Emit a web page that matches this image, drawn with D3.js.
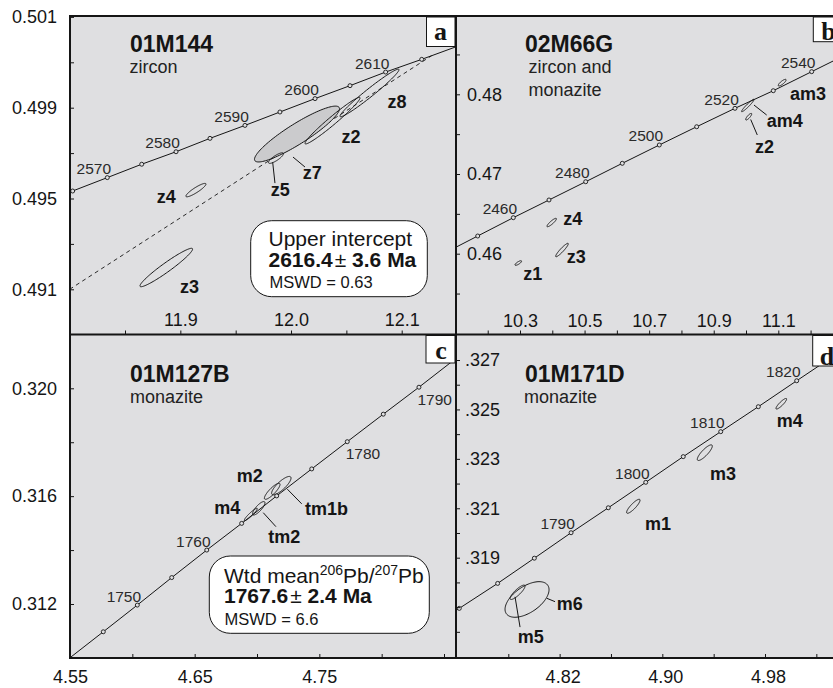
<!DOCTYPE html>
<html>
<head>
<meta charset="utf-8">
<script src="https://cdn.jsdelivr.net/npm/d3@7"></script>
<style>
  html, body { margin: 0; padding: 0; background: #ffffff; }
  svg { display: block; }
</style>
</head>
<body>
<svg id="chart" width="833" height="688"></svg>
<script>
// ---------------------------------------------------------------
// Concordia diagrams (206Pb/238U vs 207Pb/235U), four samples
// ---------------------------------------------------------------

// ---- Panel a: 01M144, zircon ----
const aAges   = [2560, 2565, 2570, 2575, 2580, 2585, 2590, 2595, 2600, 2605, 2610, 2615, 2620];
const aConcX  = [11.771, 11.8027, 11.834, 11.8651, 11.8961, 11.9268, 11.9584, 11.99, 12.0217, 12.0533, 12.0855, 12.1181, 12.150];
const aConcY  = [0.49475, 0.49533, 0.49592, 0.49651, 0.49706, 0.49765, 0.49822, 0.49881, 0.49940, 0.49997, 0.50057, 0.50113, 0.50170];
const aAgeLabels = [2570, 2580, 2590, 2600, 2610];
const aDiscordia = [[11.80, 0.4910], [12.127, 0.50129]];
const aSpots = [
  { name: "z7", x: 12.0054, y: 0.49784, sx: 0.0384,  sy: 0.00123,  rho: 0.905 },
  { name: "z2", x: 12.0375, y: 0.49843, sx: 0.02485, sy: 0.001026, rho: 0.975 },
  { name: "z8", x: 12.0709, y: 0.49965, sx: 0.02665, sy: 0.001048, rho: 0.9767 },
  { name: "z5", x: 11.9864, y: 0.49678, sx: 0.00678, sy: 0.000233, rho: 0.833 },
  { name: "z4", x: 11.9141, y: 0.49537, sx: 0.00904, sy: 0.000295, rho: 0.898 },
  { name: "z3", x: 11.8873, y: 0.49196, sx: 0.02376, sy: 0.000846, rho: 0.958 }
];
const aXTicks = [11.85, 11.9, 11.95, 12.0, 12.05, 12.1];
const aXLabelValues = [11.9, 12.0, 12.1];
const aXLabels = ["11.9", "12.0", "12.1"];
const aYTicks = [0.491, 0.493, 0.495, 0.497, 0.499, 0.501, 0.503];
const aYLabelValues = [0.491, 0.495, 0.499, 0.503];
const aYLabels = ["0.491", "0.495", "0.499", "0.501"];

// ---- Panel b: 02M66G, zircon and monazite ----
const bAges  = [2440, 2450, 2460, 2470, 2480, 2490, 2500, 2510, 2520, 2530, 2540, 2550];
const bConcX = [10.0587, 10.169, 10.2793, 10.3898, 10.5035, 10.6168, 10.7314, 10.8472, 10.9658, 11.0845, 11.2034, 11.3223];
const bConcY = [0.45992, 0.46222, 0.46452, 0.46674, 0.46903, 0.47134, 0.47364, 0.47593, 0.47824, 0.48045, 0.48284, 0.48523];
const bAgeLabels = [2460, 2480, 2500, 2520, 2540];
const bSpots = [
  { name: "am3", x: 11.112,  y: 0.48146, sx: 0.0121,  sy: 0.000414, rho: 0.82 },
  { name: "am4", x: 11.0055, y: 0.47859, sx: 0.0192,  sy: 0.000778, rho: 0.956 },
  { name: "z2",  x: 11.0083, y: 0.47719, sx: 0.0093,  sy: 0.000414, rho: 0.83 },
  { name: "z4",  x: 10.3982, y: 0.46391, sx: 0.01455, sy: 0.000527, rho: 0.886 },
  { name: "z3",  x: 10.430,  y: 0.46046, sx: 0.0195,  sy: 0.00084,  rho: 0.931 },
  { name: "z1",  x: 10.2947, y: 0.45883, sx: 0.0102,  sy: 0.000289, rho: 0.795 }
];
const bXTicks = [10.2, 10.3, 10.4, 10.5, 10.6, 10.7, 10.8, 10.9, 11.0, 11.1, 11.2];
const bXLabelValues = [10.3, 10.5, 10.7, 10.9, 11.1];
const bXLabels = ["10.3", "10.5", "10.7", "10.9", "11.1"];
const bYTicks = [0.455, 0.46, 0.465, 0.47, 0.475, 0.48, 0.485];
const bYLabelValues = [0.46, 0.47, 0.48];
const bYLabels = ["0.46", "0.47", "0.48"];

// ---- Panel c: 01M127B, monazite ----
const cAges  = [1740, 1745, 1750, 1755, 1760, 1765, 1770, 1775, 1780, 1785, 1790, 1795];
const cConcX = [4.5487, 4.5767, 4.604, 4.6316, 4.6597, 4.6877, 4.7158, 4.7439, 4.7724, 4.8013, 4.8299, 4.858];
const cConcY = [0.30996, 0.31097, 0.31196, 0.31298, 0.31400, 0.31499, 0.31601, 0.31701, 0.31802, 0.31904, 0.32004, 0.32105];
const cAgeLabels = [1750, 1760, 1780, 1790];
const cSpots = [
  { name: "tm1b", x: 4.7195, y: 0.31639, sx: 0.00778, sy: 0.000341, rho: 0.82 },
  { name: "m2",   x: 4.7122, y: 0.31618, sx: 0.00626, sy: 0.000297, rho: 0.856 },
  { name: "tm2",  x: 4.7014, y: 0.31555, sx: 0.00497, sy: 0.000249, rho: 0.81 },
  { name: "m4",   x: 4.695,  y: 0.31532, sx: 0.00521, sy: 0.00023,  rho: 0.936 }
];
const cXTicks = [4.55, 4.60, 4.65, 4.70, 4.75, 4.80, 4.85];
const cXLabelValues = [4.55, 4.65, 4.75];
const cXLabels = ["4.55", "4.65", "4.75"];
const cYTicks = [0.312, 0.314, 0.316, 0.318, 0.320];
const cYLabelValues = [0.312, 0.316, 0.320];
const cYLabels = ["0.312", "0.316", "0.320"];

// ---- Panel d: 01M171D, monazite ----
const dAges  = [1770, 1775, 1780, 1785, 1790, 1795, 1800, 1805, 1810, 1815, 1820, 1825];
const dConcX = [4.7126, 4.7418, 4.7717, 4.8003, 4.8289, 4.8579, 4.8871, 4.9163, 4.9455, 4.9748, 5.0047, 5.034];
const dConcY = [0.31593, 0.31695, 0.31796, 0.31898, 0.32001, 0.32102, 0.32205, 0.32309, 0.3241, 0.32511, 0.32616, 0.32718];
const dAgeLabels = [1790, 1800, 1810, 1820];
const dSpots = [
  { name: "m4", x: 4.9927, y: 0.32523, sx: 0.00413, sy: 0.000214, rho: 0.885 },
  { name: "m3", x: 4.9331, y: 0.32325, sx: 0.00584, sy: 0.000316, rho: 0.846 },
  { name: "m1", x: 4.8774, y: 0.32108, sx: 0.00522, sy: 0.000283, rho: 0.867 },
  { name: "m6", x: 4.7946, y: 0.31731, sx: 0.01714, sy: 0.00072,  rho: 0.55 },
  { name: "m5", x: 4.7872, y: 0.3176,  sx: 0.00584, sy: 0.000291, rho: 0.855 }
];
const dXTicks = [4.78, 4.82, 4.86, 4.90, 4.94, 4.98, 5.02];
const dXLabelValues = [4.82, 4.90, 4.98];
const dXLabels = ["4.82", "4.90", "4.98"];
const dYTicks = [0.316, 0.317, 0.318, 0.319, 0.320, 0.321, 0.322, 0.323, 0.324, 0.325, 0.326, 0.327];
const dYLabelValues = [0.319, 0.321, 0.323, 0.325, 0.327];
const dYLabels = [".319", ".321", ".323", ".325", ".327"];

// ---------------------------------------------------------------
// Layout and style
// ---------------------------------------------------------------
const L = 70, MX = 456, R = 845, T = 16, MY = 334.5, B = 658;
const PANEL_BG = "#dfdfe1";
const SHADE = "#cbcbcd";
const INK = "#151515";
const FONT = "'Liberation Sans', Arial, Helvetica, sans-serif";
const SERIF = "'Liberation Serif', 'Times New Roman', serif";

// label anchor (px, relative to the ellipse centre) and leader lines
const spotLabelPos = {
  a: { z8: [18, 15.5], z2: [9, 22], z7: [5.7, 45.3], z5: [-5.3, 38], z4: [-39.3, 13.3], z3: [13.7, 25.2] },
  b: { am3: [7.8, 17.3], am4: [19, 21], z2: [6.3, 36], z4: [11.6, 2], z3: [4.7, 13], z1: [5, 17] },
  c: { m2: [-35.5, -9.6], tm1b: [23.7, 29.2], m4: [-36.5, -0.5], tm2: [9.5, 35] },
  d: { m4: [-4.6, 23.6], m3: [5.2, 27.2], m1: [11.7, 23.7], m6: [29.7, 10.5], m5: [0.2, 51.1] }
};
const spotLeaders = {
  a: { z7: [[-4, 23], [8, 33]], z5: [[-3.3, 4], [-1, 25]] },
  b: { am4: [[6.2, -0.5], [18.9, 9.5]], z2: [[2, 2.8], [8.6, 18.3]] },
  c: { tm1b: [[6, 3.5], [20.4, 18.2]], tm2: [[4.5, 4.4], [17.2, 18.4]] },
  d: { m6: [[19.7, -1.2], [28, 2.2]], m5: [[-2.5, 4.5], [2.5, 34.8]] }
};
const shadedSpots = { a: ["z7"] };
const ageLabelsBelow = { c: [1780, 1790] };

const panels = [
  { id: "a", box: [L, T, MX, MY],
    x: d3.scaleLinear().domain([11.85, 12.1]).range([125, 401.7]),
    y: d3.scaleLinear().domain([0.491, 0.499]).range([289.3, 107.7]),
    ages: aAges, cx: aConcX, cy: aConcY, ageLabels: aAgeLabels, spots: aSpots, discordia: aDiscordia,
    title: "01M144", sub: ["zircon"], tx: 130, ty: 51.5, sx: 129.5, sy: [73],
    xt: [aXTicks, aXLabelValues, aXLabels], yt: [aYTicks, aYLabelValues, aYLabels],
    letter: "a", letterBox: [426.5, T, MX, 46.5], letterPos: [440.5, 39.5] },
  { id: "b", box: [MX, T, R, MY],
    x: d3.scaleLinear().domain([10.3, 11.1]).range([520, 778.3]),
    y: d3.scaleLinear().domain([0.46, 0.48]).range([253.7, 94.3]),
    ages: bAges, cx: bConcX, cy: bConcY, ageLabels: bAgeLabels, spots: bSpots,
    title: "02M66G", sub: ["zircon and", "monazite"], tx: 525, ty: 51.5, sx: 528.5, sy: [72.5, 95.5],
    xt: [bXTicks, bXLabelValues, bXLabels], yt: [bYTicks, bYLabelValues, bYLabels],
    letter: "b", letterBox: [813.3, T, R, 41.7], letterPos: [828.5, 39.5] },
  { id: "c", box: [L, MY, MX, B],
    x: d3.scaleLinear().domain([4.55, 4.85]).range([70, 444]),
    y: d3.scaleLinear().domain([0.312, 0.320]).range([604, 388.3]),
    ages: cAges, cx: cConcX, cy: cConcY, ageLabels: cAgeLabels, spots: cSpots,
    title: "01M127B", sub: ["monazite"], tx: 130, ty: 382.3, sx: 130, sy: [403],
    xt: [cXTicks, cXLabelValues, cXLabels], yt: [cYTicks, cYLabelValues, cYLabels],
    letter: "c", letterBox: [426, MY, MX, 363], letterPos: [441, 358.5] },
  { id: "d", box: [MX, MY, R, B],
    x: d3.scaleLinear().domain([4.78, 4.98]).range([508.3, 765]),
    y: d3.scaleLinear().domain([0.319, 0.327]).range([557.7, 360]),
    ages: dAges, cx: dConcX, cy: dConcY, ageLabels: dAgeLabels, spots: dSpots,
    title: "01M171D", sub: ["monazite"], tx: 525, ty: 382.3, sx: 524, sy: [403],
    xt: [dXTicks, dXLabelValues, dXLabels], yt: [dYTicks, dYLabelValues, dYLabels],
    letter: "d", letterBox: [812.7, MY, R, 366], letterPos: [827, 364.5] }
];

const svg = d3.select("#chart");
const defs = svg.append("defs");

// error ellipse from 2-sigma half-widths and error correlation
function ellipsePoints(s, n = 120) {
  const k = Math.sqrt(1 - s.rho * s.rho);
  return d3.range(n).map(i => {
    const t = 2 * Math.PI * i / n;
    return [s.x + s.sx * Math.cos(t), s.y + s.sy * (s.rho * Math.cos(t) + k * Math.sin(t))];
  });
}

function drawPanel(p) {
  const [x0, y0, x1, y1] = p.box;
  const g = svg.append("g").attr("class", "panel-" + p.id);
  g.append("rect").attr("x", x0).attr("y", y0).attr("width", x1 - x0).attr("height", y1 - y0)
    .attr("fill", PANEL_BG);

  defs.append("clipPath").attr("id", "clip-" + p.id).append("rect")
    .attr("x", x0).attr("y", y0).attr("width", x1 - x0).attr("height", y1 - y0);
  const plot = g.append("g").attr("clip-path", `url(#clip-${p.id})`);

  // title and mineral
  g.append("text").attr("x", p.tx).attr("y", p.ty).text(p.title)
    .attr("font-family", FONT).attr("font-size", 23).attr("font-weight", "bold").attr("fill", INK);
  p.sub.forEach((s, i) => {
    g.append("text").attr("x", p.sx).attr("y", p.sy[i]).text(s)
      .attr("font-family", FONT).attr("font-size", 18).attr("fill", "#222");
  });

  const line = d3.line().x(d => p.x(d[0])).y(d => p.y(d[1]));

  // discordia
  if (p.discordia) {
    plot.append("path").attr("d", line(p.discordia)).attr("fill", "none")
      .attr("stroke", INK).attr("stroke-width", 0.9).attr("stroke-dasharray", "4,3.5");
  }

  // concordia curve
  const conc = p.ages.map((a, i) => [p.cx[i], p.cy[i], a]);
  plot.append("path").attr("d", line(conc)).attr("fill", "none")
    .attr("stroke", INK).attr("stroke-width", 1);

  // error ellipses
  const shaded = shadedSpots[p.id] || [];
  const eLine = d3.line().x(d => p.x(d[0])).y(d => p.y(d[1])).curve(d3.curveLinearClosed);
  p.spots.forEach(s => {
    plot.append("path").attr("d", eLine(ellipsePoints(s)))
      .attr("fill", shaded.includes(s.name) ? SHADE : "none")
      .attr("stroke", INK).attr("stroke-width", 1);
  });

  // age marks on concordia
  plot.selectAll("circle.age").data(conc.slice(1, -1)).join("circle").attr("class", "age")
    .attr("cx", d => p.x(d[0])).attr("cy", d => p.y(d[1])).attr("r", 2)
    .attr("fill", PANEL_BG).attr("stroke", INK).attr("stroke-width", 0.9);

  // age labels
  const below = ageLabelsBelow[p.id] || [];
  conc.filter(d => p.ageLabels.includes(d[2])).forEach(d => {
    const px = p.x(d[0]), py = p.y(d[1]);
    const isBelow = below.includes(d[2]);
    g.append("text")
      .attr("x", isBelow ? px - 1.5 : px + 3.8)
      .attr("y", isBelow ? py + 17.6 : py - 3.5)
      .attr("text-anchor", isBelow ? "start" : "end")
      .attr("font-family", FONT).attr("font-size", 15.5).attr("fill", "#2a2a2a")
      .text(d[2]);
  });

  // spot labels and leaders
  p.spots.forEach(s => {
    const cxp = p.x(s.x), cyp = p.y(s.y);
    const lead = (spotLeaders[p.id] || {})[s.name];
    if (lead) {
      g.append("line").attr("x1", cxp + lead[0][0]).attr("y1", cyp + lead[0][1])
        .attr("x2", cxp + lead[1][0]).attr("y2", cyp + lead[1][1])
        .attr("stroke", INK).attr("stroke-width", 1);
    }
    const off = spotLabelPos[p.id][s.name];
    g.append("text").attr("x", cxp + off[0]).attr("y", cyp + off[1]).text(s.name)
      .attr("font-family", FONT).attr("font-size", 18).attr("font-weight", "bold").attr("fill", INK);
  });
}

panels.forEach(drawPanel);

// ---- result boxes ----
function resultBox(x, y, w, h) {
  svg.append("rect").attr("x", x).attr("y", y).attr("width", w).attr("height", h)
    .attr("rx", 21).attr("ry", 21).attr("fill", "#ffffff").attr("stroke", INK).attr("stroke-width", 1);
}
resultBox(250.7, 220.7, 176.6, 76);
svg.append("text").attr("x", 268.5).attr("y", 245.5).text("Upper intercept")
  .attr("font-family", FONT).attr("font-size", 21).attr("fill", INK);
{
  const t = svg.append("text").attr("x", 268.5).attr("y", 266.5)
    .attr("font-family", FONT).attr("font-size", 21).attr("font-weight", "bold").attr("fill", INK);
  t.append("tspan").text("2616.4");
  t.append("tspan").attr("font-weight", "normal").attr("dx", 2).text("\u00b1");
  t.append("tspan").text(" 3.6 Ma");
}
svg.append("text").attr("x", 269.5).attr("y", 288.3).text("MSWD = 0.63")
  .attr("font-family", FONT).attr("font-size", 16.5).attr("fill", INK);

resultBox(209.3, 556, 220, 77.3);
{
  const t = svg.append("text").attr("x", 224).attr("y", 583.3)
    .attr("font-family", FONT).attr("font-size", 21).attr("fill", INK);
  t.append("tspan").text("Wtd mean");
  t.append("tspan").attr("font-size", 14).attr("dy", -8).text("206");
  t.append("tspan").attr("dy", 8).text("Pb/");
  t.append("tspan").attr("font-size", 14).attr("dy", -8).text("207");
  t.append("tspan").attr("dy", 8).text("Pb");
}
{
  const t = svg.append("text").attr("x", 224).attr("y", 603.3)
    .attr("font-family", FONT).attr("font-size", 21).attr("font-weight", "bold").attr("fill", INK);
  t.append("tspan").text("1767.6");
  t.append("tspan").attr("font-weight", "normal").attr("dx", 2).text("\u00b1");
  t.append("tspan").text(" 2.4 Ma");
}
svg.append("text").attr("x", 224.5).attr("y", 624.5).text("MSWD = 6.6")
  .attr("font-family", FONT).attr("font-size", 16.5).attr("fill", INK);

// ---- axes ----
function makeAxis(gen, scale, spec) {
  const [ticks, labelVals, labels] = spec;
  const m = new Map(labelVals.map((v, i) => [v.toFixed(4), labels[i]]));
  return gen(scale).tickValues(ticks).tickFormat(v => m.get((+v).toFixed(4)) || "");
}
function styleAxis(sel) {
  sel.attr("font-family", FONT).attr("font-size", 18);
  sel.select(".domain").remove();
  sel.selectAll("line").attr("stroke", INK).attr("stroke-width", 1);
  sel.selectAll("text").attr("fill", INK);
}
const pa = panels[0], pb = panels[1], pc = panels[2], pd = panels[3];

svg.append("g").attr("transform", `translate(${L},0)`)
  .call(makeAxis(d3.axisLeft, pa.y, pa.yt).tickSize(-4).tickPadding(13)).call(styleAxis);
svg.append("g").attr("transform", `translate(0,${MY})`)
  .call(makeAxis(d3.axisTop, pa.x, pa.xt).tickSize(4).tickPadding(4.5)).call(styleAxis);

svg.append("g").attr("transform", `translate(${MX},0)`)
  .call(makeAxis(d3.axisRight, pb.y, pb.yt).tickSize(4).tickPadding(7)).call(styleAxis);
svg.append("g").attr("transform", `translate(0,${MY})`)
  .call(makeAxis(d3.axisTop, pb.x, pb.xt).tickSize(4).tickPadding(3.5)).call(styleAxis);

svg.append("g").attr("transform", `translate(${L},0)`)
  .call(makeAxis(d3.axisLeft, pc.y, pc.yt).tickSize(-4).tickPadding(13)).call(styleAxis);
svg.append("g").attr("transform", `translate(0,${B})`)
  .call(makeAxis(d3.axisBottom, pc.x, pc.xt).tickSize(-4).tickPadding(12)).call(styleAxis);

svg.append("g").attr("transform", `translate(${MX},0)`)
  .call(makeAxis(d3.axisRight, pd.y, pd.yt).tickSize(4).tickPadding(5)).call(styleAxis);
svg.append("g").attr("transform", `translate(0,${B})`)
  .call(makeAxis(d3.axisBottom, pd.x, pd.xt).tickSize(-4).tickPadding(12)).call(styleAxis)
  .selectAll("text").attr("dx", 3);

// ---- frame lines ----
const frame = svg.append("g").attr("stroke", INK).attr("stroke-width", 2);
frame.append("line").attr("x1", L - 1).attr("x2", R).attr("y1", T).attr("y2", T);
frame.append("line").attr("x1", L - 1).attr("x2", R).attr("y1", MY).attr("y2", MY);
frame.append("line").attr("x1", L - 1).attr("x2", R).attr("y1", B).attr("y2", B);
frame.append("line").attr("x1", L).attr("x2", L).attr("y1", T - 1).attr("y2", B + 1);
frame.append("line").attr("x1", MX).attr("x2", MX).attr("y1", T - 1).attr("y2", B + 1);

// ---- panel letters ----
panels.forEach(p => {
  const [bx0, by0, bx1, by1] = p.letterBox;
  svg.append("rect").attr("x", bx0).attr("y", by0 + 1).attr("width", bx1 - bx0 - 1).attr("height", by1 - by0 - 1)
    .attr("fill", "#ffffff").attr("stroke", INK).attr("stroke-width", 1);
  svg.append("text").attr("x", p.letterPos[0]).attr("y", p.letterPos[1]).attr("text-anchor", "middle")
    .attr("font-family", SERIF).attr("font-size", 26).attr("font-weight", "bold").attr("fill", INK)
    .text(p.letter);
});
</script>
</body>
</html>
